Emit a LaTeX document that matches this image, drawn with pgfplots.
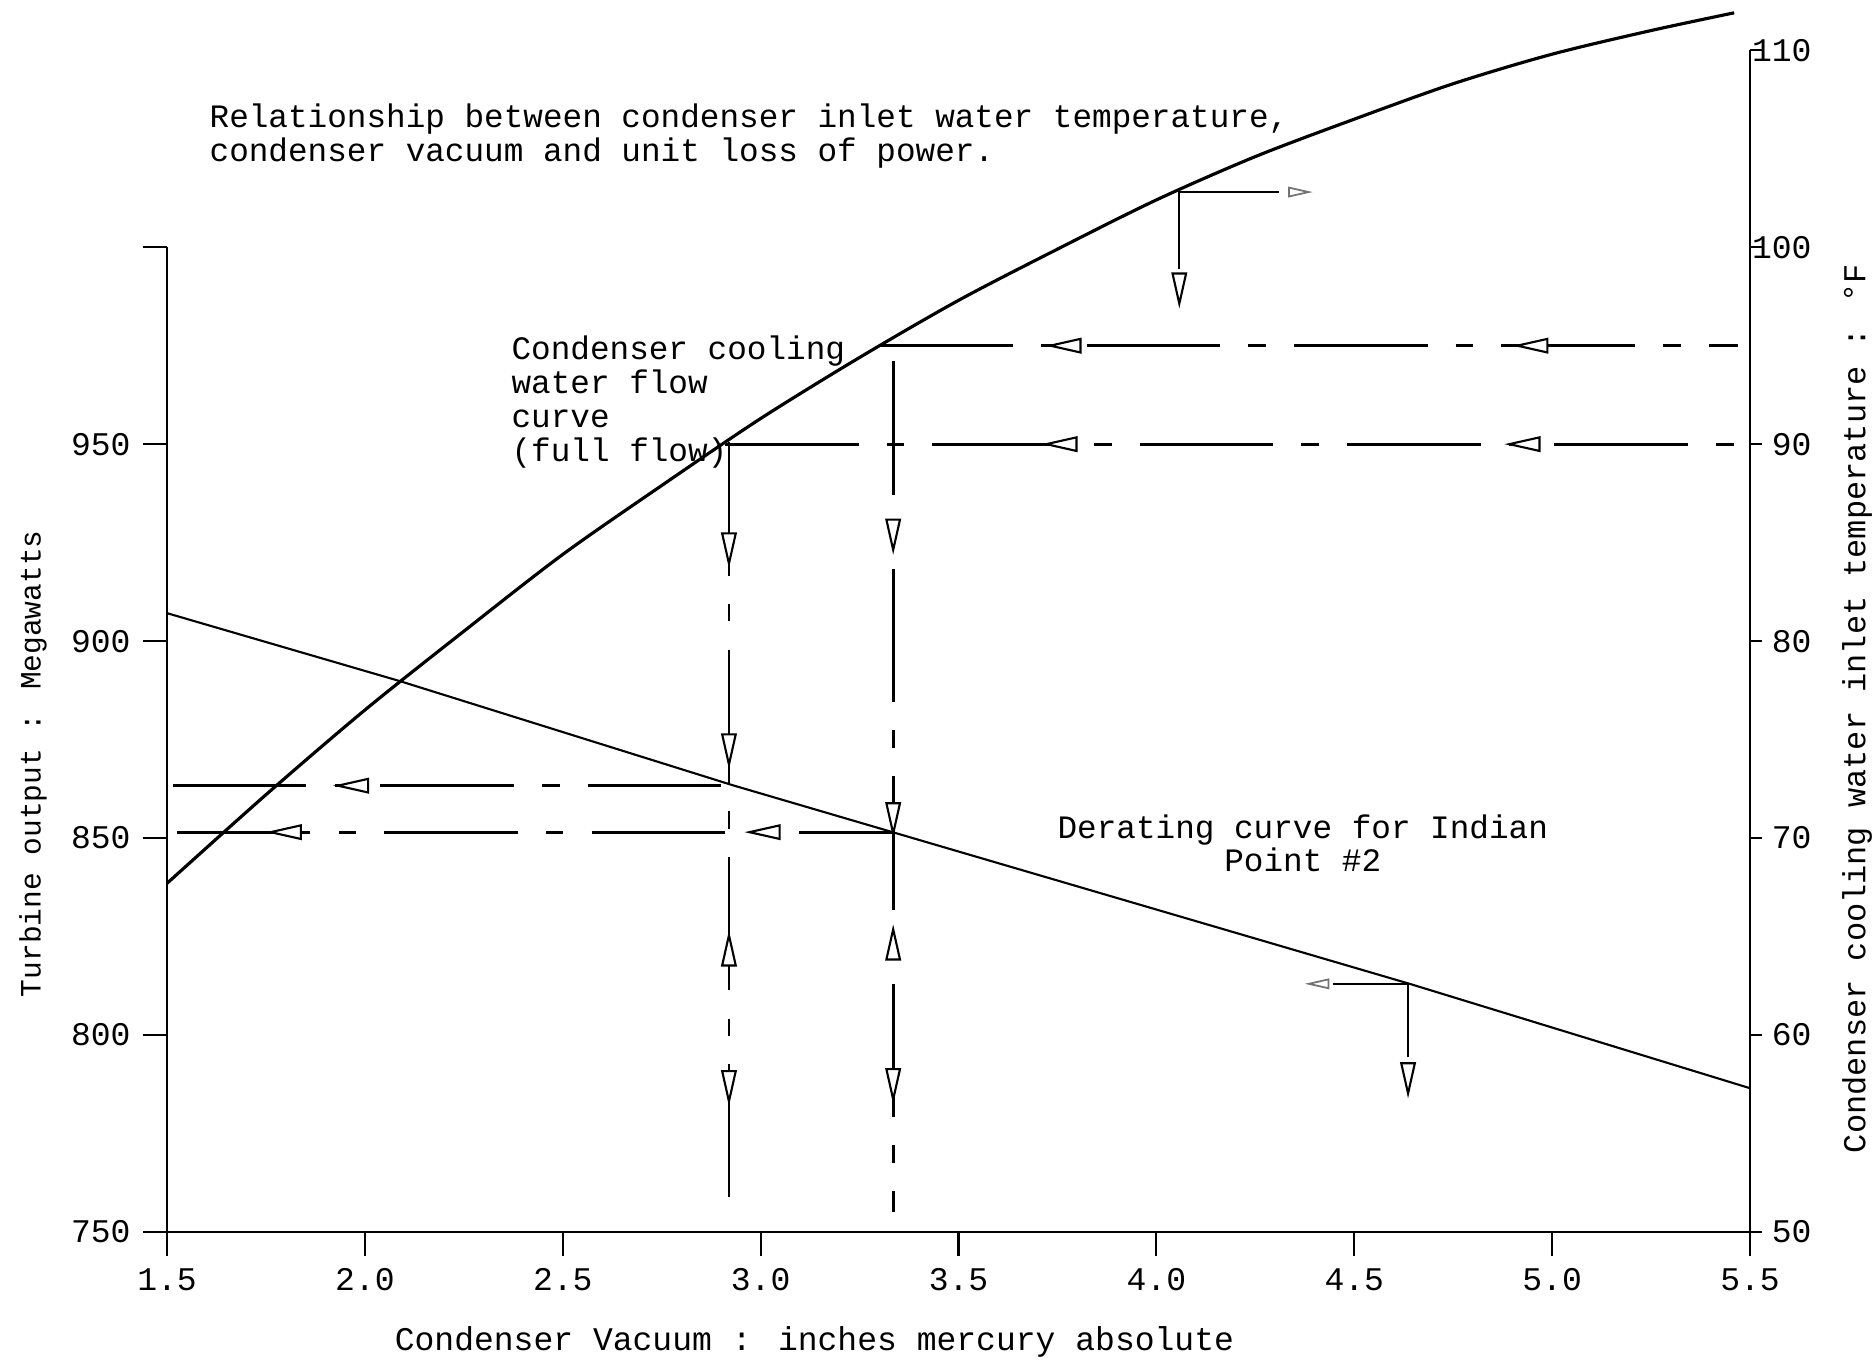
\documentclass[border=0pt]{standalone}
\usepackage{fontspec}
\setmainfont{Liberation Mono}
\usepackage{pgfplots}
\pgfplotsset{compat=1.18}

% narrow open triangle used as the flow arrows
\pgfdeclareplotmark{tri}{%
  \pgfpathmoveto{\pgfqpoint{\pgfplotmarksize}{0pt}}%
  \pgfpathlineto{\pgfqpoint{-\pgfplotmarksize}{0.45\pgfplotmarksize}}%
  \pgfpathlineto{\pgfqpoint{-\pgfplotmarksize}{-0.45\pgfplotmarksize}}%
  \pgfpathclose
  \pgfusepathqfillstroke}

\pgfplotsset{
  base/.style={width=15.83cm, height=12.29cm, scale only axis,
    xmin=1.5, xmax=5.5, clip=false, tick align=outside,
    axis line style={draw=none},
    /pgf/number format/assume math mode=true,
    ticklabel style={font=\fontsize{9.4}{11}\selectfont},
    tick style={black, line width=0.6pt}},
  flow/.style={line width=0.8pt, dash pattern=on 38pt off 8pt on 5pt off 8pt},
  % #1 = direction the arrow points (degrees)
  arr/.style={only marks, mark=tri, mark size=4.3pt,
    mark options={solid, fill=white, draw=black, line width=0.6pt, rotate=#1}},
  faint/.style={only marks, mark=tri, mark size=2.8pt,
    mark options={solid, fill=white, draw=black!55, line width=0.5pt, rotate=#1}},
}
\tikzset{note/.style={font=\fontsize{9.3}{9.6}\selectfont, inner sep=0pt}}

\begin{document}
\begin{tikzpicture}
\useasboundingbox (-1.67,-1.28) rectangle (17.05,12.32);

% left axis: turbine output (MW)
\begin{axis}[base,
  ymin=750, ymax=1062,
  axis x line*=bottom, axis y line*=left,
  major tick length=0.24cm,
  xtick={1.5,2,...,5.5},
  xticklabel={\pgfmathprintnumber[fixed,fixed zerofill,precision=1]{\tick}},
  ytick={750,800,850,900,950,1000},
  yticklabels={750,800,850,900,950,{}},
  xlabel={Condenser Vacuum : inches mercury absolute},
  xlabel style={at={(axis description cs:0.409,-0.0895)}, anchor=center,
    font=\fontsize{9.4}{11}\selectfont},
  ylabel={Turbine output : Megawatts},
  ylabel style={at={(axis description cs:-0.0846,0.381)}, anchor=center,
    font=\fontsize{8.4}{10}\selectfont},
]
\draw[line width=0.6pt] (axis cs:1.5,750) -- (axis cs:1.5,1000);
\draw[line width=0.5pt] (axis cs:1.5,750) -- (axis cs:5.5,750);

% derating curve
\addplot[line width=0.6pt] coordinates {
  (1.5,907.1) (2.09,889.8) (2.93,863.4) (3.33,851.6) (4.64,813.0) (5.5,786.5)};

% dashed construction lines
\addplot[flow] coordinates {(2.92,950.5) (2.92,759)};
\addplot[flow] coordinates {(3.335,971) (3.335,755)};
\addplot[flow] coordinates {(1.515,863.3) (2.92,863.3)};
\addplot[flow] coordinates {(1.525,851.5) (3.335,851.5)};

\addplot[arr=180] coordinates {(1.97,863.3) (1.80,851.5) (3.01,851.5)};
\addplot[arr=-90] coordinates {
  (2.92,923.5) (2.92,872.5) (2.92,787) (3.335,927) (3.335,855) (3.335,787.5)};
\addplot[arr=90] coordinates {(2.92,821.5) (3.335,823)};

% small read-off at 4.64
\addplot[line width=0.5pt] coordinates {(4.446,813) (4.636,813) (4.636,794.4)};
\addplot[arr=-90] coordinates {(4.636,789)};
\addplot[faint=180] coordinates {(4.41,813)};

\node[note, anchor=north west, align=left] at (axis cs:1.606,1036.6)
  {Relationship between condenser inlet water temperature,\\condenser vacuum and unit loss of power.};
\node[note, anchor=north west, align=left] at (axis cs:2.369,977.6)
  {Condenser cooling\\water flow\\curve\\(full flow)};
\node[note, align=center] at (axis cs:4.37,848.7)
  {Derating curve for Indian\\Point \#2};
\end{axis}

% right axis: inlet water temperature (F)
\begin{axis}[base,
  ymin=50, ymax=112.4,
  axis x line=none, axis y line*=right,
  major tick length=0.12cm,
  ytick={50,60,...,110},
  yticklabel style={anchor=east, xshift=0.62cm},
  ylabel={Condenser cooling water inlet temperature : °F},
  ylabel style={at={(axis description cs:1.0676,0.426)}, anchor=center,
    font=\fontsize{9.1}{11}\selectfont},
]
\draw[line width=0.6pt] (axis cs:5.5,50) -- (axis cs:5.5,110);

% cooling water flow curve (full flow)
\addplot[line width=0.9pt, smooth] coordinates {
  (1.50,67.7) (1.75,72.2) (2.00,76.5) (2.25,80.5) (2.50,84.4) (2.75,87.9)
  (3.00,91.3) (3.25,94.4) (3.50,97.3) (3.75,99.9) (4.00,102.4) (4.25,104.6)
  (4.50,106.5) (4.75,108.3) (5.00,109.8) (5.25,111.0) (5.46,111.9)};

\addplot[flow] coordinates {(3.30,95) (5.47,95)};
\addplot[flow] coordinates {(2.91,90) (5.47,90)};
\addplot[arr=180] coordinates {(3.77,95) (4.95,95) (3.76,90) (4.93,90)};

% small read-off at 4.06
\addplot[line width=0.5pt] coordinates {(4.31,102.8) (4.058,102.8) (4.058,98.9)};
\addplot[arr=-90] coordinates {(4.058,97.9)};
\addplot[faint=0] coordinates {(4.36,102.8)};
\end{axis}
\end{tikzpicture}
\end{document}
